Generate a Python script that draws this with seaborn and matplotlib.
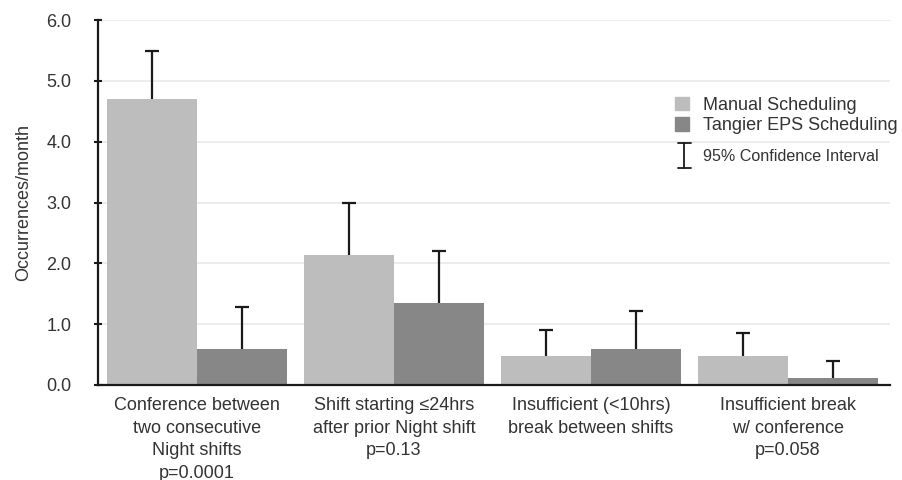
import numpy as np
import pandas as pd
import seaborn as sns
import matplotlib.pyplot as plt
from matplotlib.patches import Patch
from matplotlib.lines import Line2D
from matplotlib.legend_handler import HandlerBase

# data
categories = ["Conference between\ntwo consecutive\nNight shifts\np=0.0001",
              "Shift starting \u226424hrs\nafter prior Night shift\np=0.13",
              "Insufficient (<10hrs)\nbreak between shifts",
              "Insufficient break\nw/ conference\np=0.058"]
groups = ["Manual Scheduling", "Tangier EPS Scheduling"]
manual = [4.71, 2.13, 0.48, 0.48]
manual_hi = [5.50, 3.00, 0.90, 0.86]
tangier = [0.59, 1.35, 0.59, 0.11]
tangier_hi = [1.28, 2.20, 1.21, 0.40]
yticks = [0.0, 1.0, 2.0, 3.0, 4.0, 5.0, 6.0]

light = "#bdbdbd"
dark = "#878787"
ink = "#1a1a1a"
txt = "#333333"

df = pd.DataFrame({
    "cat": categories * 2,
    "scheme": [groups[0]] * 4 + [groups[1]] * 4,
    "value": manual + tangier,
})


class HandlerCI(HandlerBase):
    # draws a little I-beam for the confidence interval key
    def create_artists(self, legend, orig_handle, xdescent, ydescent,
                       width, height, fontsize, trans):
        cx = width / 2 - xdescent
        cy = height / 2 - ydescent
        h, w = 9, 4.5
        kw = dict(color=ink, linewidth=1.3, transform=trans)
        return [Line2D([cx, cx], [cy - h, cy + h], **kw),
                Line2D([cx - w, cx + w], [cy + h, cy + h], **kw),
                Line2D([cx - w, cx + w], [cy - h, cy - h], **kw)]


sns.set_style("white")
plt.rcParams["font.family"] = ["Liberation Sans", "DejaVu Sans"]

fig = plt.figure(figsize=(9.02, 4.80), dpi=100)
ax = fig.add_axes([0.1086, 0.198, 0.878, 0.760])

sns.barplot(data=df, x="cat", y="value", hue="scheme", palette=[light, dark],
            width=0.91, errorbar=None, linewidth=0, saturation=1, ax=ax, zorder=2)

# upper error bars only, at bar centres
bars = [p for p in ax.patches if p.get_height() > 0]
bars = sorted(bars, key=lambda p: p.get_x())
his = []
for i in range(4):
    his += [manual_hi[i], tangier_hi[i]]
for p, hi in zip(bars, his):
    xc = p.get_x() + p.get_width() / 2
    v = p.get_height()
    _, caps, _ = ax.errorbar([xc], [v], yerr=[[0], [hi - v]], fmt="none",
                             ecolor=ink, elinewidth=1.6, capsize=5,
                             capthick=1.6, zorder=3)
    caps[0].set_visible(False)

ax.set_ylim(0, 6)
ax.set_xlim(-0.503, 3.518)
ax.set_yticks(yticks)
ax.set_yticklabels([f"{t:.1f}" for t in yticks])
ax.yaxis.grid(True, color="#ebebeb", linewidth=1.3, zorder=0)
ax.set_axisbelow(True)

for s in ["top", "right"]:
    ax.spines[s].set_visible(False)
for s in ["left", "bottom"]:
    ax.spines[s].set_color(ink)
    ax.spines[s].set_linewidth(1.6)
    ax.spines[s].set_zorder(4)

ax.tick_params(axis="y", left=True, direction="inout", length=6, width=1.5,
               color=ink, pad=16, labelsize=13, labelcolor=txt)
ax.tick_params(axis="x", bottom=False, length=0, pad=9, labelsize=13,
               labelcolor=txt)
for lab in ax.get_xticklabels():
    lab.set_linespacing(1.42)
ax.set_xlabel("")
ax.set_ylabel("Occurrences/month", fontsize=13, color=txt, labelpad=10.5)

# legend: bars
handles = [Patch(color=light, label=groups[0]), Patch(color=dark, label=groups[1])]
leg = ax.legend(handles=handles, loc="upper left", bbox_to_anchor=(0.72, 0.81),
                frameon=False, fontsize=13, handlelength=0.75, handleheight=0.75,
                handletextpad=0.8, labelspacing=0.2, borderaxespad=0)
for t in leg.get_texts():
    t.set_color(txt)
ax.add_artist(leg)

# legend: confidence interval symbol
ci = Line2D([], [])
leg2 = ax.legend([ci], ["95% Confidence Interval"], loc="upper left",
                 bbox_to_anchor=(0.72, 0.673), frameon=False, fontsize=11.6,
                 handlelength=1.2, handleheight=1.5, handletextpad=0.55,
                 borderaxespad=0, handler_map={ci: HandlerCI()})
for t in leg2.get_texts():
    t.set_color(txt)

fig.savefig("out.png", dpi=100)
